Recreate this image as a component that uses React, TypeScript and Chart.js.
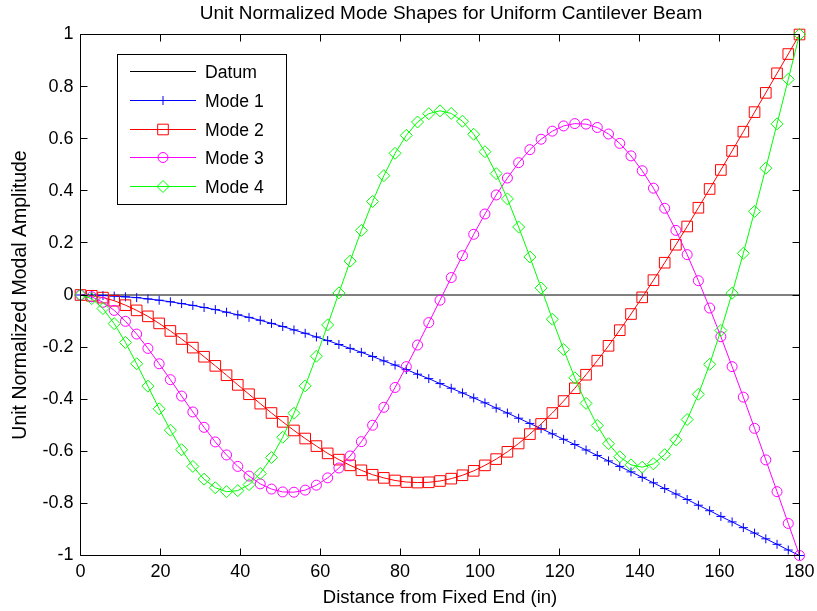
import React, { useEffect, useRef } from 'react';
import { Chart, registerables } from 'chart.js';

Chart.register(...registerables);

const TITLE = 'Unit Normalized Mode Shapes for Uniform Cantilever Beam';
const X_LABEL = 'Distance from Fixed End (in)';
const Y_LABEL = 'Unit Normalized Modal Amplitude';

const legendLabels = ['Datum', 'Mode 1', 'Mode 2', 'Mode 3', 'Mode 4'];

const positions = [
  0, 2.8125, 5.625, 8.4375, 11.25, 14.0625, 16.875, 19.6875, 22.5, 25.3125,
  28.125, 30.9375, 33.75, 36.5625, 39.375, 42.1875, 45, 47.8125, 50.625, 53.4375,
  56.25, 59.0625, 61.875, 64.6875, 67.5, 70.3125, 73.125, 75.9375, 78.75, 81.5625,
  84.375, 87.1875, 90, 92.8125, 95.625, 98.4375, 101.25, 104.0625, 106.875, 109.6875,
  112.5, 115.3125, 118.125, 120.9375, 123.75, 126.5625, 129.375, 132.1875, 135, 137.8125,
  140.625, 143.4375, 146.25, 149.0625, 151.875, 154.6875, 157.5, 160.3125, 163.125, 165.9375,
  168.75, 171.5625, 174.375, 177.1875, 180,
];

const datumX = [0, 180];
const datumY = [0, 0];

const mode1 = [
  0, -0.0004, -0.002, -0.004, -0.007, -0.010, -0.015, -0.020, -0.026, -0.033,
  -0.040, -0.048, -0.056, -0.066, -0.076, -0.086, -0.097, -0.109, -0.121, -0.134,
  -0.147, -0.161, -0.175, -0.190, -0.205, -0.220, -0.236, -0.253, -0.269, -0.286,
  -0.304, -0.321, -0.340, -0.358, -0.376, -0.395, -0.414, -0.434, -0.453, -0.473,
  -0.493, -0.513, -0.533, -0.554, -0.574, -0.595, -0.616, -0.637, -0.658, -0.679,
  -0.700, -0.721, -0.743, -0.764, -0.785, -0.807, -0.828, -0.850, -0.871, -0.893,
  -0.914, -0.936, -0.957, -0.979, -1.000,
];

const mode2 = [
  0, -0.003, -0.010, -0.022, -0.039, -0.059, -0.082, -0.109, -0.138, -0.169,
  -0.202, -0.237, -0.272, -0.308, -0.345, -0.381, -0.417, -0.453, -0.487, -0.520,
  -0.551, -0.580, -0.608, -0.632, -0.654, -0.673, -0.690, -0.702, -0.712, -0.718,
  -0.720, -0.719, -0.714, -0.705, -0.692, -0.675, -0.654, -0.630, -0.602, -0.570,
  -0.534, -0.495, -0.453, -0.407, -0.358, -0.306, -0.252, -0.195, -0.135, -0.073,
  -0.009, 0.057, 0.124, 0.193, 0.263, 0.335, 0.407, 0.480, 0.553, 0.627,
  0.702, 0.776, 0.851, 0.925, 1.000,
];

const mode3 = [
  0, -0.007, -0.028, -0.059, -0.101, -0.150, -0.205, -0.264, -0.325, -0.388,
  -0.449, -0.508, -0.564, -0.614, -0.658, -0.695, -0.725, -0.745, -0.756, -0.757,
  -0.749, -0.730, -0.702, -0.664, -0.618, -0.563, -0.500, -0.431, -0.355, -0.275,
  -0.192, -0.106, -0.020, 0.067, 0.151, 0.233, 0.311, 0.384, 0.449, 0.508,
  0.558, 0.598, 0.629, 0.649, 0.658, 0.656, 0.643, 0.618, 0.582, 0.534,
  0.477, 0.410, 0.333, 0.248, 0.155, 0.055, -0.050, -0.160, -0.275, -0.392,
  -0.512, -0.633, -0.755, -0.877, -1.000,
];

const mode4 = [
  0, -0.014, -0.052, -0.110, -0.182, -0.264, -0.350, -0.437, -0.519, -0.594,
  -0.658, -0.707, -0.740, -0.755, -0.751, -0.728, -0.685, -0.624, -0.546, -0.454,
  -0.349, -0.235, -0.115, 0.008, 0.130, 0.248, 0.359, 0.458, 0.544, 0.613,
  0.664, 0.696, 0.707, 0.697, 0.667, 0.617, 0.550, 0.466, 0.369, 0.261,
  0.146, 0.027, -0.093, -0.209, -0.318, -0.416, -0.501, -0.571, -0.621, -0.652,
  -0.661, -0.648, -0.613, -0.556, -0.478, -0.381, -0.266, -0.136, 0.007, 0.160,
  0.321, 0.487, 0.657, 0.828, 1.000,
];

const xTicks = [0, 20, 40, 60, 80, 100, 120, 140, 160, 180];
const yTicks = [-1, -0.8, -0.6, -0.4, -0.2, 0, 0.2, 0.4, 0.6, 0.8, 1];
const yTickLabels = ['-1', '-0.8', '-0.6', '-0.4', '-0.2', '0', '0.2', '0.4', '0.6', '0.8', '1'];

const FONT = "'Liberation Sans', Arial, Helvetica, sans-serif";

function toPoints(xs: number[], ys: number[]) {
  return xs.map((x, i) => ({ x, y: ys[i] }));
}

function drawMarker(ctx: CanvasRenderingContext2D, style: string, x: number, y: number, r: number) {
  ctx.beginPath();
  if (style === 'rect') {
    const s = r * Math.SQRT1_2;
    ctx.rect(x - s, y - s, 2 * s, 2 * s);
  } else if (style === 'circle') {
    ctx.arc(x, y, r, 0, Math.PI * 2);
  } else if (style === 'rectRot') {
    ctx.moveTo(x - r, y);
    ctx.lineTo(x, y - r);
    ctx.lineTo(x + r, y);
    ctx.lineTo(x, y + r);
    ctx.closePath();
  } else if (style === 'cross') {
    ctx.moveTo(x, y - r);
    ctx.lineTo(x, y + r);
    ctx.moveTo(x - r, y);
    ctx.lineTo(x + r, y);
  }
  ctx.stroke();
}

const framePlugin = {
  id: 'matlabFrame',
  afterDatasetsDraw(chart: any) {
    const { ctx, chartArea: a } = chart;
    const xs = chart.scales.x;
    const ys = chart.scales.y;
    const tl = 7;
    ctx.save();
    ctx.strokeStyle = '#000';
    ctx.lineWidth = 1;
    ctx.beginPath();
    ctx.rect(a.left, a.top, a.right - a.left, a.bottom - a.top);
    ctx.stroke();
    ctx.beginPath();
    for (const t of xTicks) {
      const p = Math.floor(xs.getPixelForValue(t)) + 0.5;
      ctx.moveTo(p, a.bottom);
      ctx.lineTo(p, a.bottom - tl);
      ctx.moveTo(p, a.top);
      ctx.lineTo(p, a.top + tl);
    }
    for (const t of yTicks) {
      const p = Math.floor(ys.getPixelForValue(t)) + 0.5;
      ctx.moveTo(a.left, p);
      ctx.lineTo(a.left + tl, p);
      ctx.moveTo(a.right, p);
      ctx.lineTo(a.right - tl, p);
    }
    ctx.stroke();
    ctx.restore();
  },
  afterDraw(chart: any) {
    const { ctx } = chart;
    ctx.save();
    // title
    ctx.fillStyle = '#000';
    ctx.font = `19px ${FONT}`;
    ctx.textAlign = 'center';
    ctx.textBaseline = 'middle';
    ctx.fillText(TITLE, 451, 14);

    // legend
    const bx = 117.5, by = 54.5, bw = 169, bh = 150;
    ctx.fillStyle = '#fff';
    ctx.fillRect(bx, by, bw, bh);
    ctx.strokeStyle = '#000';
    ctx.lineWidth = 1;
    ctx.strokeRect(bx, by, bw, bh);
    const rows = [71.5, 100.5, 129.5, 157.5, 186.5];
    chart.data.datasets.forEach((ds: any, i: number) => {
      const y = rows[i];
      ctx.strokeStyle = ds.borderColor;
      ctx.lineWidth = 1;
      ctx.beginPath();
      ctx.moveTo(130, y);
      ctx.lineTo(196, y);
      ctx.stroke();
      if (ds.pointRadius > 0) {
        drawMarker(ctx, ds.pointStyle, 163, y, ds.pointRadius);
      }
      ctx.fillStyle = '#000';
      ctx.font = `17.6px ${FONT}`;
      ctx.textAlign = 'left';
      ctx.textBaseline = 'middle';
      ctx.fillText(legendLabels[i], 205, y + 1.5);
    });
    ctx.restore();
  },
};

export default function App() {
  const ref = useRef<HTMLCanvasElement | null>(null);

  useEffect(() => {
    document.body.style.margin = '0';
    const canvas = ref.current;
    if (!canvas) return;
    Chart.defaults.font.family = FONT;
    Chart.defaults.color = '#000';

    const common = {
      borderWidth: 1,
      pointBorderWidth: 1,
      pointBackgroundColor: 'rgba(0,0,0,0)',
      tension: 0,
      clip: false as any,
      fill: false,
    };

    const chart = new Chart(canvas, {
      type: 'line',
      data: {
        datasets: [
          {
            ...common,
            label: legendLabels[0],
            data: toPoints(datumX, datumY),
            borderColor: '#000000',
            pointRadius: 0,
            pointStyle: 'circle',
            order: 4,
          },
          {
            ...common,
            label: legendLabels[1],
            data: toPoints(positions, mode1),
            borderColor: '#0000ff',
            pointBorderColor: '#0000ff',
            pointStyle: 'cross',
            pointRadius: 4.5,
            order: 3,
          },
          {
            ...common,
            label: legendLabels[2],
            data: toPoints(positions, mode2),
            borderColor: '#ff0000',
            pointBorderColor: '#ff0000',
            pointStyle: 'rect',
            pointRadius: 7.5,
            order: 2,
          },
          {
            ...common,
            label: legendLabels[3],
            data: toPoints(positions, mode3),
            borderColor: '#ff00ff',
            pointBorderColor: '#ff00ff',
            pointStyle: 'circle',
            pointRadius: 5,
            order: 1,
          },
          {
            ...common,
            label: legendLabels[4],
            data: toPoints(positions, mode4),
            borderColor: '#00ff00',
            pointBorderColor: '#00ff00',
            pointStyle: 'rectRot',
            pointRadius: 6,
            order: 0,
          },
        ] as any,
      },
      options: {
        responsive: false,
        devicePixelRatio: 1,
        animation: false,
        events: [],
        layout: { padding: { left: 0, right: 17.5, top: 34.5, bottom: 0 } },
        plugins: {
          legend: { display: false },
          tooltip: { enabled: false },
          title: { display: false },
        },
        scales: {
          x: {
            type: 'linear',
            min: 0,
            max: 180,
            afterFit: (s: any) => {
              s.height = 55.5;
              s.paddingLeft = 0;
              s.paddingRight = 0;
            },
            afterBuildTicks: (s: any) => { s.ticks = xTicks.map((v) => ({ value: v })); },
            ticks: {
              padding: 6,
              font: { size: 18, family: FONT },
              color: '#000',
              maxRotation: 0,
              callback: (v: any) => String(v),
            },
            grid: { display: false, drawTicks: false },
            border: { display: false },
            title: {
              display: true,
              text: X_LABEL,
              color: '#000',
              font: { size: 18.5, family: FONT },
              padding: { top: 0, bottom: 2 },
            },
          },
          y: {
            type: 'linear',
            min: -1,
            max: 1,
            afterFit: (s: any) => {
              s.width = 80.5;
              s.paddingTop = 0;
              s.paddingBottom = 0;
            },
            afterBuildTicks: (s: any) => { s.ticks = yTicks.map((v) => ({ value: v })); },
            ticks: {
              padding: 7,
              font: { size: 18, family: FONT },
              color: '#000',
              callback: (v: any) => {
                const i = yTicks.findIndex((t) => Math.abs(t - Number(v)) < 1e-6);
                return i >= 0 ? yTickLabels[i] : '';
              },
            },
            grid: { display: false, drawTicks: false },
            border: { display: false },
            title: {
              display: true,
              text: Y_LABEL,
              color: '#000',
              font: { size: 19.5, family: FONT },
              padding: { top: 8.5, bottom: 0 },
            },
          },
        },
      } as any,
      plugins: [framePlugin],
    });

    return () => chart.destroy();
  }, []);

  return (
    <div style={{ width: 817, height: 611, background: '#fff', overflow: 'hidden' }}>
      <canvas ref={ref} width={817} height={611} style={{ display: 'block', width: 817, height: 611 }} />
    </div>
  );
}
